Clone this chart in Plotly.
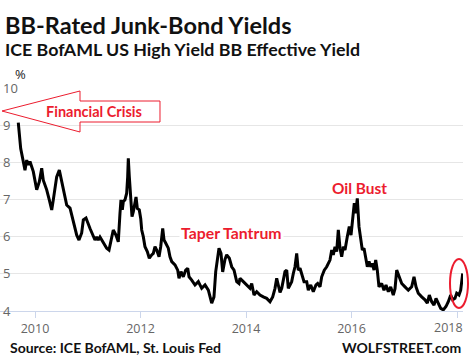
import plotly.graph_objects as go

# ---- data (decimal year, effective yield %) ----
years = [
    2009.683, 2009.729, 2009.810, 2009.843, 2009.873, 2009.905, 2009.968,
    2010.032, 2010.082, 2010.127, 2010.157, 2010.222, 2010.271, 2010.317,
    2010.347, 2010.379, 2010.411, 2010.461, 2010.506, 2010.536, 2010.601,
    2010.664, 2010.726, 2010.791, 2010.834, 2010.885, 2010.916, 2010.967,
    2011.043, 2011.106, 2011.137, 2011.169, 2011.200, 2011.232, 2011.295,
    2011.359, 2011.403, 2011.454, 2011.484, 2011.536, 2011.579, 2011.611,
    2011.630, 2011.655, 2011.674, 2011.706, 2011.738, 2011.757, 2011.769,
    2011.788, 2011.814, 2011.839, 2011.864, 2011.890, 2011.915, 2011.940,
    2011.977, 2012.004, 2012.023, 2012.053, 2012.085, 2012.129, 2012.167,
    2012.212, 2012.243, 2012.275, 2012.307, 2012.351, 2012.383, 2012.421,
    2012.446, 2012.470, 2012.527, 2012.559, 2012.592, 2012.654, 2012.705,
    2012.730, 2012.768, 2012.812, 2012.857, 2012.895, 2012.920, 2012.971,
    2013.033, 2013.096, 2013.160, 2013.223, 2013.286, 2013.350, 2013.393,
    2013.426, 2013.464, 2013.488, 2013.526, 2013.558, 2013.602, 2013.634,
    2013.684, 2013.729, 2013.773, 2013.824, 2013.867, 2013.886, 2013.949,
    2014.013, 2014.076, 2014.108, 2014.152, 2014.203, 2014.265, 2014.328,
    2014.392, 2014.455, 2014.506, 2014.550, 2014.582, 2014.612, 2014.645,
    2014.677, 2014.707, 2014.739, 2014.772, 2014.802, 2014.834, 2014.866,
    2014.897, 2014.929, 2014.961, 2014.991, 2015.024, 2015.056, 2015.100,
    2015.151, 2015.181, 2015.227, 2015.276, 2015.327, 2015.359, 2015.403,
    2015.435, 2015.484, 2015.530, 2015.592, 2015.625, 2015.655, 2015.687,
    2015.719, 2015.750, 2015.782, 2015.814, 2015.845, 2015.877, 2015.920,
    2015.958, 2015.991, 2016.023, 2016.053, 2016.080, 2016.110, 2016.142,
    2016.174, 2016.205, 2016.237, 2016.269, 2016.300, 2016.332, 2016.364,
    2016.394, 2016.427, 2016.459, 2016.489, 2016.521, 2016.572, 2016.616,
    2016.654, 2016.698, 2016.743, 2016.792, 2016.825, 2016.857, 2016.906,
    2016.952, 2017.014, 2017.077, 2017.141, 2017.185, 2017.223, 2017.266,
    2017.331, 2017.393, 2017.437, 2017.475, 2017.520, 2017.564, 2017.602,
    2017.645, 2017.691, 2017.740, 2017.791, 2017.835, 2017.881, 2017.918,
    2017.962, 2017.994, 2018.038, 2018.070, 2018.089, 2018.108,
]
yields = [
    9.07, 8.37, 7.79, 8.06, 7.93, 8.02, 7.75,
    7.26, 7.48, 7.84, 7.52, 7.26, 6.99, 6.72,
    6.99, 7.26, 7.61, 7.79, 7.48, 7.26, 6.85,
    6.77, 6.45, 6.04, 5.91, 6.10, 6.45, 6.50,
    6.22, 6.00, 5.91, 5.99, 5.91, 5.99, 5.82,
    5.69, 5.64, 6.00, 6.18, 6.04, 5.86, 6.63,
    6.99, 6.72, 6.94, 6.99, 7.17, 7.61, 8.11,
    7.61, 7.17, 6.54, 6.67, 6.85, 7.07, 6.76,
    6.72, 6.49, 6.18, 6.00, 5.73, 5.60, 5.42,
    5.51, 5.55, 5.73, 5.64, 5.46, 5.73, 6.22,
    5.91, 5.85, 5.69, 5.46, 5.33, 5.24, 5.10,
    4.88, 5.06, 4.92, 5.10, 5.15, 4.92, 4.83,
    4.70, 4.79, 4.61, 4.70, 4.56, 4.21, 4.38,
    5.06, 5.46, 5.69, 5.55, 5.05, 5.39, 5.51,
    5.42, 5.19, 5.10, 4.79, 4.74, 4.88, 4.79,
    4.70, 4.61, 4.74, 4.43, 4.52, 4.43, 4.38,
    4.34, 4.25, 4.38, 4.61, 4.88, 4.70, 4.50,
    4.61, 4.83, 5.06, 5.10, 4.61, 4.70, 4.79,
    5.01, 5.19, 5.55, 5.10, 5.15, 4.97, 4.79,
    4.79, 4.56, 4.70, 4.52, 4.70, 4.74, 4.65,
    4.92, 5.10, 5.19, 5.37, 5.64, 5.51, 5.73,
    5.60, 6.18, 5.69, 5.46, 5.73, 5.64, 6.00,
    6.27, 6.04, 6.45, 6.90, 6.63, 7.03, 6.27,
    5.91, 5.64, 5.69, 5.46, 5.19, 5.33, 5.19,
    5.28, 5.10, 5.37, 5.10, 4.65, 4.74, 4.56,
    4.70, 4.52, 4.65, 4.43, 4.60, 5.10, 4.92,
    4.74, 4.65, 4.56, 4.65, 4.92, 4.65, 4.48,
    4.38, 4.30, 4.21, 4.43, 4.25, 4.16, 4.34,
    4.21, 4.07, 4.03, 4.12, 4.25, 4.43, 4.30,
    4.34, 4.48, 4.43, 4.56, 4.79, 5.01,
]
x_ticks = [2010, 2012, 2014, 2016, 2018]
x_tick_labels = ["2010", "2012", "2014", "2016", "2018"]
y_ticks = [4, 5, 6, 7, 8, 9, 10]

RED = "#ec1c2e"
W, H = 469, 364
L, R, T, B = 0, 463, 88, 311  # plot area in pixels


def px(x):
    return (x - L) / (R - L)


def py(y):
    return (B - y) / (B - T)


fig = go.Figure()
fig.add_trace(go.Scatter(
    x=years, y=yields, mode="lines",
    line=dict(color="#000000", width=3),
    hoverinfo="skip", showlegend=False,
))

font_main = "Lato, 'Open Sans', sans-serif"
tick_font = dict(family="'Open Sans', sans-serif", size=12.5, color="#666")
ann = []
ann.append(dict(text="<b>BB-Rated Junk-Bond Yields</b>", x=px(3), y=py(25),
                xanchor="left", yanchor="middle",
                font=dict(family=font_main, size=23.5, color="#111")))
ann.append(dict(text="<b>ICE BofAML US High Yield BB Effective Yield</b>", x=px(3), y=py(49),
                xanchor="left", yanchor="middle",
                font=dict(family=font_main, size=17.8, color="#111")))
ann.append(dict(text="%", x=px(20), y=py(74), xanchor="center", yanchor="middle",
                font=dict(family="'Open Sans', sans-serif", size=13, color="#222")))
ann.append(dict(text="<b>Source: ICE BofAML, St. Louis Fed</b>", x=px(8), y=py(347),
                xanchor="left", yanchor="middle",
                font=dict(family=font_main, size=14, color="#111")))
ann.append(dict(text="<b>WOLFSTREET.com</b>", x=px(463), y=py(347),
                xanchor="right", yanchor="middle",
                font=dict(family=font_main, size=14, color="#111")))
ann.append(dict(text="<b>Financial Crisis</b>", x=px(94), y=py(111),
                xanchor="center", yanchor="middle",
                font=dict(family=font_main, size=14.5, color=RED)))
ann.append(dict(text="<b>Taper Tantrum</b>", x=px(231), y=py(232),
                xanchor="center", yanchor="middle", bgcolor="white",
                font=dict(family=font_main, size=15.8, color=RED)))
ann.append(dict(text="<b>Oil Bust</b>", x=px(359), y=py(188),
                xanchor="center", yanchor="middle",
                font=dict(family=font_main, size=15.4, color=RED)))
for a in ann:
    a.update(xref="paper", yref="paper", showarrow=False)

# last year label: shown left of its tick so it stays inside the frame
ann.append(dict(text=x_tick_labels[-1], xref="x", yref="paper",
                x=x_ticks[-1], xshift=-9, y=py(327), xanchor="center", yanchor="middle",
                showarrow=False, font=tick_font))

arrow_pts = [(2, 111), (80, 91), (80, 101), (160, 101), (160, 122), (80, 122), (80, 132)]
path = "M " + " L ".join(f"{px(x):.5f},{py(y):.5f}" for x, y in arrow_pts) + " Z"

shapes = [
    dict(type="path", path=path, xref="paper", yref="paper",
         line=dict(color=RED, width=1), fillcolor="rgba(0,0,0,0)"),
    dict(type="circle", xref="paper", yref="paper",
         x0=px(450), x1=px(468), y0=py(308), y1=py(259),
         line=dict(color=RED, width=2)),
]

tick_text = x_tick_labels[:-1] + [""]

fig.update_layout(
    width=W, height=H,
    margin=dict(l=L, r=W - R, t=T, b=H - B, pad=0, autoexpand=False),
    paper_bgcolor="white", plot_bgcolor="white",
    annotations=ann, shapes=shapes,
    xaxis=dict(
        range=[2010 - 35 / 52.75, 2010 + 428 / 52.75],
        tickvals=x_ticks, ticktext=tick_text,
        showgrid=False, zeroline=False, automargin=False,
        showline=True, linecolor="#ccd6eb", linewidth=1,
        ticks="outside", ticklen=6, tickcolor="#ccd6eb",
        tickfont=tick_font,
    ),
    yaxis=dict(
        range=[4, 10], tickvals=y_ticks, automargin=False,
        showgrid=True, gridcolor="#e6e6e6", gridwidth=1, zeroline=False,
        ticklabelposition="inside", ticklabeloverflow="allow",
        tickfont=dict(family="'Open Sans', sans-serif", size=13, color="#666"),
    ),
)

fig.write_html("out.html", config={"displayModeBar": False},
               post_script="document.body.style.margin='0';")
